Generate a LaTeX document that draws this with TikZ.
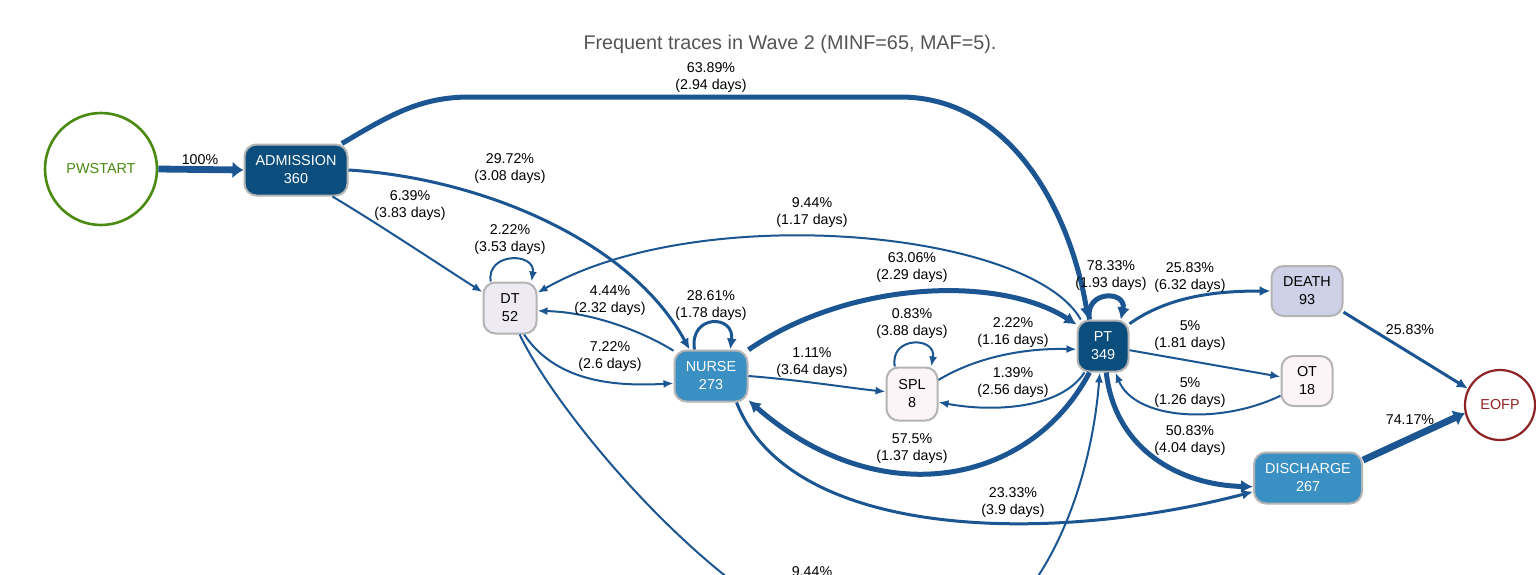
\documentclass[tikz,border=0pt]{standalone}
\usepackage{fontspec}
\setmainfont{Liberation Sans}
\usetikzlibrary{arrows.meta}
\definecolor{edgec}{HTML}{1B5592}
\definecolor{darkf}{HTML}{0B4E7D}
\definecolor{midf}{HTML}{3A90C3}
\definecolor{lavf}{HTML}{EDEAF3}
\definecolor{lavg}{HTML}{CDD0E6}
\definecolor{pinkf}{HTML}{FCF5F7}
\definecolor{bordc}{HTML}{B4B4B4}
\definecolor{startg}{HTML}{4A8A10}
\definecolor{endr}{HTML}{8E2323}
\definecolor{titleg}{HTML}{555555}
\begin{document}
\begin{tikzpicture}[x=0.5pt,y=-0.5pt,
  box/.style={draw=bordc,line width=1pt,rounded corners=6pt,minimum height=25.5pt,align=center,
    font=\fontsize{7.2}{9}\selectfont,inner sep=1pt},
  darkbox/.style={box,fill=darkf,text=white},
  midbox/.style={box,fill=midf,text=white},
  lab/.style={align=center,font=\fontsize{7.1}{8.5}\selectfont,inner sep=0pt},
  e/.style={draw=edgec,line width=1pt,-{Latex[length=5pt,width=4pt]}},
  em/.style={draw=edgec,line width=1.5pt,-{Latex[length=5.5pt,width=5pt]}},
  et/.style={draw=edgec,line width=2.5pt,-{Latex[length=6pt,width=6.5pt]}},
  ex/.style={draw=edgec,line width=3.4pt,-{Latex[length=5.5pt,width=8.5pt]}},
]
\useasboundingbox (0,0) rectangle (1536,574);
\clip (0,0) rectangle (1536,574);
\fill[white] (0,0) rectangle (1536,574);

\node[font=\fontsize{9.9}{11}\selectfont,text=titleg] (title) at (790,44) {Frequent traces in Wave 2 (MINF=65, MAF=5).};

% nodes
\node[circle,draw=startg,line width=1.3pt,minimum size=56pt,text=startg,font=\fontsize{7.2}{9}\selectfont] (PWS) at (101,169) {PWSTART};
\node[darkbox,minimum width=51.5pt] (ADM) at (296,170) {ADMISSION\\360};
\node[box,fill=lavf,minimum width=26.5pt] (DT) at (510,308) {DT\\52};
\node[midbox,minimum width=36.5pt] (NUR) at (711,376) {NURSE\\273};
\node[box,fill=pinkf,minimum width=25.5pt,minimum height=26.5pt] (SPL) at (912,394) {SPL\\8};
\node[darkbox,minimum width=25.5pt] (PT) at (1103,346) {PT\\349};
\node[box,fill=lavg,minimum width=35.5pt,minimum height=25pt] (DEA) at (1307,291) {DEATH\\93};
\node[box,fill=pinkf,minimum width=25.5pt,minimum height=25pt] (OT) at (1307,381) {OT\\18};
\node[midbox,minimum width=54pt] (DIS) at (1308,478) {DISCHARGE\\267};
\node[circle,draw=endr,line width=1.1pt,minimum size=35pt,text=endr,font=\fontsize{7.2}{9}\selectfont] (EOFP) at (1500,405) {EOFP};

% edges
\draw[ex] (PWS.east) -- (ADM.west);
\draw[et] (ADM.30) .. controls (390,115) and (420,97) .. (470,97) -- (900,97) .. controls (1010,97) and (1070,210) .. (PT.119);
\draw[em] (ADM.east) .. controls (480,178) and (630,240) .. (NUR.129);
\draw[e] (ADM.-36) .. controls (380,225) and (440,265) .. (DT.150);
\draw[e] (DT.126) .. controls (486,252) and (536,252) .. (DT.51);
\draw[e] (PT.130) .. controls (1030,230) and (700,200) .. (DT.29);
\draw[e] (NUR.146) .. controls (640,330) and (590,312) .. (DT.-6);
\draw[e] (DT.-62) .. controls (555,380) and (610,387) .. (NUR.191);
\draw[em] (NUR.122) .. controls (689,314) and (735,314) .. (NUR.54);
\draw[et] (NUR.35) .. controls (850,280) and (1000,275) .. (PT.141);
\draw[e] (NUR.east) .. controls (800,380) and (850,388) .. (SPL.175);
\draw[e] (SPL.122) .. controls (889,336) and (937,336) .. (SPL.55);
\draw[e] (SPL.28) .. controls (980,355) and (1030,348) .. (PT.187);
\draw[e] (PT.235) .. controls (1060,410) and (990,412) .. (SPL.-17);
\draw[et] (PT.243) .. controls (1030,485) and (880,515) .. (NUR.-33);
\draw[et] (PT.117) .. controls (1084,290) and (1127,290) .. (PT.56);
\draw[em] (PT.40) .. controls (1170,295) and (1220,291) .. (DEA.west);
\draw[e] (PT.-9) -- (OT.171);
\draw[e] (OT.209) .. controls (1220,425) and (1135,420) .. (PT.295);
\draw[et] (PT.277) .. controls (1115,450) and (1180,485) .. (DIS.189.5);
\draw[em] (NUR.-46) .. controls (790,540) and (1050,545) .. (DIS.194.5);
\draw[e] (DT.-70) .. controls (560,420) and (750,650) .. (900,660) .. controls (1030,660) and (1090,500) .. (PT.263);
\draw[em] (DEA.-30) -- (EOFP.153);
\draw[ex] (DIS.18.4) -- (EOFP.193);

% labels
\node[lab] (l1) at (200,160) {100\%};
\node[lab] (l2) at (711,78) {63.89\%\\(2.94 days)};
\node[lab] (l3) at (510,169) {29.72\%\\(3.08 days)};
\node[lab] (l4) at (410,206) {6.39\%\\(3.83 days)};
\node[lab] (l5) at (812,213) {9.44\%\\(1.17 days)};
\node[lab] (l6) at (510,240) {2.22\%\\(3.53 days)};
\node[lab] (l7) at (912,268) {63.06\%\\(2.29 days)};
\node[lab] (l8) at (1111,276) {78.33\%\\(1.93 days)};
\node[lab] (l9) at (1190,278) {25.83\%\\(6.32 days)};
\node[lab] (l10) at (610,301) {4.44\%\\(2.32 days)};
\node[lab] (l11) at (711,306) {28.61\%\\(1.78 days)};
\node[lab] (l12) at (912,324) {0.83\%\\(3.88 days)};
\node[lab] (l13) at (1013,333) {2.22\%\\(1.16 days)};
\node[lab] (l14) at (1190,336) {5\%\\(1.81 days)};
\node[lab] (l15) at (610,357) {7.22\%\\(2.6 days)};
\node[lab] (l16) at (812,363) {1.11\%\\(3.64 days)};
\node[lab] (l17) at (1013,383) {1.39\%\\(2.56 days)};
\node[lab] (l18) at (1190,393) {5\%\\(1.26 days)};
\node[lab] (l19) at (1410,330) {25.83\%};
\node[lab] (l20) at (1190,441) {50.83\%\\(4.04 days)};
\node[lab] (l21) at (912,449) {57.5\%\\(1.37 days)};
\node[lab] (l22) at (1410,420) {74.17\%};
\node[lab] (l23) at (1013,503) {23.33\%\\(3.9 days)};
\node[lab,anchor=north] (l24) at (812,566) {9.44\%};
\end{tikzpicture}
\end{document}
